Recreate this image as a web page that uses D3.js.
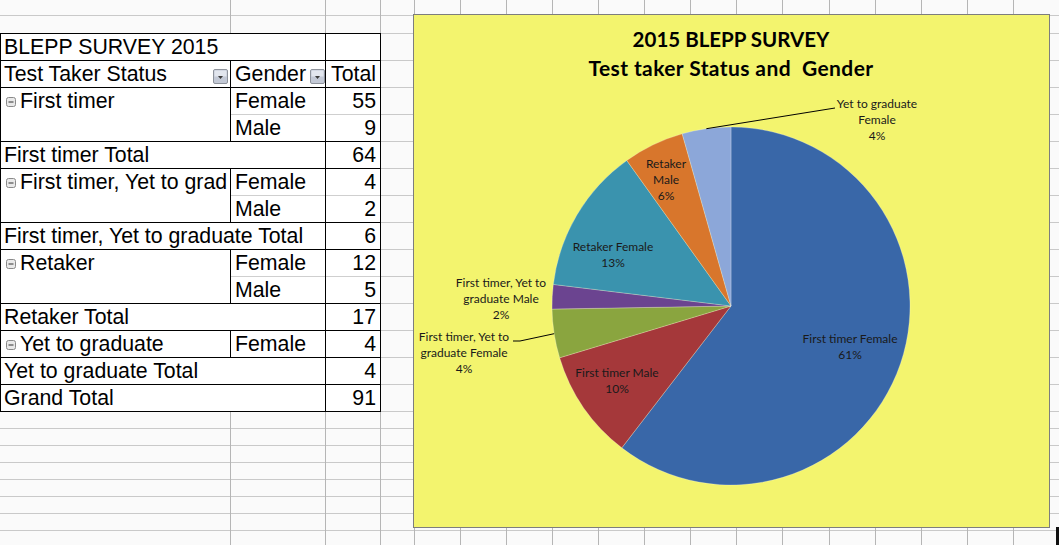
<!DOCTYPE html>
<html>
<head>
<meta charset="utf-8">
<script src="https://cdn.jsdelivr.net/npm/d3@7"></script>
<style>
body{margin:0;background:#fafafa;overflow:hidden}
text{white-space:pre}
</style>
</head>
<body>
<div class="canvas"></div>
<script>
// pivot table values
const statuses=["First timer","First timer, Yet to graduate","Retaker","Yet to graduate"];
const genders=[["Female","Male"],["Female","Male"],["Female","Male"],["Female"]];
const counts=[[55,9],[4,2],[12,5],[4]];
const tableTitle="BLEPP SURVEY 2015";
const headers=["Test Taker Status","Gender","Total"];

// chart texts
const chartTitle=["2015 BLEPP SURVEY","Test taker Status and  Gender"];
const sliceColors=["#3967a8","#a5383a","#8aa53f","#6b4490","#3a93ae","#d8762c","#8ca7d9"];
// label wrapping the way excel shows it
const sliceLabelLines=[["First timer Female"],["First timer Male"],["First timer, Yet to","graduate Female"],
  ["First timer, Yet to","graduate Male"],["Retaker Female"],["Retaker","Male"],["Yet to graduate","Female"]];

const dims={width:1059,height:545};
const cent={x:731,y:306};
const radius=179;
// label block centre, relative to pie centre
const labelPos=[[119,41],[-114,75],[-267,47],[-230,-7],[-118,-51],[-65,-126],[146,-186]];
const leaders={2:[[-218,35],[-211,35]],6:[[104,-198]]};

const svg=d3.select('.canvas')
.append('svg')
.attr('width',dims.width)
.attr('height',dims.height)
.style('display','block');

svg.append('rect').attr('width',dims.width).attr('height',dims.height).attr('fill','#fafafa');

// sheet grid
const colLines=[230,325,380,414].concat(d3.range(14).map(k=>460+k*46.07));
const rowLines=[15].concat(d3.range(15).map(k=>33+k*27)).concat(d3.range(1,8).map(k=>411+k*17));

svg.append('g').selectAll('line').data(rowLines).join('line')
.attr('x1',0).attr('x2',dims.width)
.attr('y1',d=>Math.round(d)+0.5).attr('y2',d=>Math.round(d)+0.5)
.attr('stroke','#c9c9c9');
svg.append('g').selectAll('line').data(colLines).join('line')
.attr('y1',0).attr('y2',dims.height)
.attr('x1',d=>Math.round(d)+0.5).attr('x2',d=>Math.round(d)+0.5)
.attr('stroke','#b5b5b5');

// ---- pivot table ----
const rowH=27, tableTop=33;
const colX={a:0,b:230,c:325,d:380};
const rows=[{type:'title'},{type:'header'}];
statuses.forEach((s,i)=>{
  genders[i].forEach((g,j)=>{
    rows.push({type:'item',label:j==0?s:'',gender:g,value:counts[i][j],last:j==genders[i].length-1});
  });
  rows.push({type:'total',label:s+' Total',value:d3.sum(counts[i])});
});
rows.push({type:'total',label:'Grand Total',value:d3.sum(counts.flat())});

const table=svg.append('g').attr('font-family','"Liberation Sans", Arial, sans-serif').attr('font-size',21.3);
table.append('rect').attr('x',0).attr('y',tableTop).attr('width',colX.d).attr('height',rows.length*rowH).attr('fill','#fff');

const lineG=table.append('g');
const hline=(y,x1,x2,c)=>lineG.append('line').attr('x1',x1).attr('x2',x2).attr('y1',y+0.5).attr('y2',y+0.5).attr('stroke',c);
const vline=(x,y1,y2)=>lineG.append('line').attr('x1',x+0.5).attr('x2',x+0.5).attr('y1',y1).attr('y2',y2).attr('stroke','#000');

// cut a label to what shows in its cell (like excel does when the next cell is filled)
const fitCell=(sel,maxW)=>{
  const full=sel.text();
  let n=full.length;
  while(n>0&&sel.node().getComputedTextLength()>maxW){ n--; sel.text(full.slice(0,n)); }
};

hline(tableTop,0,colX.d+1,'#000');
rows.forEach((r,i)=>{
  const y=tableTop+i*rowH, base=y+21;
  if(r.type=='item'&&!r.last) hline(y+rowH,colX.b,colX.d,'#cfcfcf');
  else hline(y+rowH,0,colX.d+1,'#000');
  if(r.type=='header'||r.type=='item') vline(colX.b,y,y+rowH+1);

  if(r.type=='title'){
    table.append('text').attr('x',4).attr('y',base).text(tableTitle);
  } else if(r.type=='header'){
    table.append('text').attr('x',4).attr('y',base).text(headers[0]);
    table.append('text').attr('x',235).attr('y',base).text(headers[1]);
    table.append('text').attr('x',376).attr('y',base).attr('text-anchor','end').text(headers[2]);
    [213,310].forEach(bx=>{
      const b=table.append('g').attr('transform',`translate(${bx},${y+9})`);
      b.append('rect').attr('x',0.5).attr('y',0.5).attr('width',14).attr('height',14).attr('rx',1.5)
       .attr('fill','#c3c9d6').attr('stroke','#8e939c');
      b.append('rect').attr('x',1.5).attr('y',1.5).attr('width',12).attr('height',6).attr('fill','#e2e6ee');
      b.append('path').attr('d','M5,7 L10,7 L7.5,10 Z').attr('fill','#3a3a3a');
    });
  } else if(r.type=='item'){
    if(r.label){
      const ic=table.append('g').attr('transform',`translate(6,${y+10})`);
      ic.append('rect').attr('x',0.5).attr('y',0.5).attr('width',9).attr('height',9).attr('rx',2)
        .attr('fill','#e9e9e9').attr('stroke','#8a8a8a');
      ic.append('line').attr('x1',2.5).attr('x2',7.5).attr('y1',5).attr('y2',5).attr('stroke','#333');
      const t=table.append('text').attr('x',20).attr('y',base).text(r.label);
      fitCell(t,colX.b-21);
    }
    table.append('text').attr('x',235).attr('y',base).text(r.gender);
    table.append('text').attr('x',376).attr('y',base).attr('text-anchor','end').text(r.value);
  } else {
    table.append('text').attr('x',4).attr('y',base).text(r.label);
    table.append('text').attr('x',376).attr('y',base).attr('text-anchor','end').text(r.value);
  }
});
vline(0,tableTop,tableTop+rows.length*rowH+1);
vline(colX.c,tableTop,tableTop+rows.length*rowH+1);
vline(colX.d,tableTop,tableTop+rows.length*rowH+1);

// ---- chart ----
svg.append('rect').attr('x',413.5).attr('y',14.5).attr('width',636).attr('height',513)
.attr('fill','#f3f46e').attr('stroke','#7d7d7d');
svg.append('rect').attr('x',1056).attr('y',527).attr('width',3).attr('height',18).attr('fill','#111');

const titleG=svg.append('g').attr('font-family','Lato, "Open Sans", sans-serif').attr('font-weight','bold')
.attr('text-anchor','middle').attr('fill','#000');
titleG.append('text').attr('x',cent.x).attr('y',47).attr('font-size',20.5).text(chartTitle[0]);
titleG.append('text').attr('x',cent.x).attr('y',76).attr('font-size',21).attr('letter-spacing',0.4).text(chartTitle[1]);

const slices=statuses.flatMap((s,i)=>genders[i].map((g,j)=>({name:s+' '+g,value:counts[i][j]})));

// percentages rounded so they add to 100 (largest remainder)
const total=d3.sum(slices,d=>d.value);
const raw=slices.map(d=>d.value/total*100);
const pct=raw.map(Math.floor);
const order=d3.range(raw.length).sort((a,b)=>(raw[b]-pct[b])-(raw[a]-pct[a]));
const missing=100-d3.sum(pct);
for(let k=0;k<missing;k++) pct[order[k]]++;

const pie=d3.pie().sort(null).value(d=>d.value);
const arcPath=d3.arc().innerRadius(0).outerRadius(radius);
const edgeArc=d3.arc().innerRadius(radius).outerRadius(radius);

const graph=svg.append('g').attr('transform',`translate(${cent.x},${cent.y})`);
const arcs=pie(slices);

graph.selectAll('path.arc').data(arcs).join('path')
.attr('class','arc')
.attr('d',arcPath)
.attr('fill',(d,i)=>sliceColors[i])
.attr('stroke','#ffffff').attr('stroke-opacity',0.35).attr('stroke-width',0.7);

// leader lines
arcs.forEach((d,i)=>{
  if(!leaders[i]) return;
  const pts=leaders[i].concat([edgeArc.centroid(d)]);
  graph.append('path').attr('d',d3.line()(pts)).attr('fill','none').attr('stroke','#000').attr('stroke-width',1);
});

const labG=graph.append('g').attr('font-family','Lato, sans-serif').attr('font-size',12)
.attr('text-anchor','middle').attr('fill','#1a1a1a');
arcs.forEach((d,i)=>{
  const lines=sliceLabelLines[i].concat([pct[i]+'%']);
  const [lx,ly]=labelPos[i];
  const t=labG.append('text');
  lines.forEach((s,k)=>{
    t.append('tspan').attr('x',lx).attr('y',ly+(k-(lines.length-1)/2)*16+4).text(s);
  });
});
</script>
</body>
</html>
